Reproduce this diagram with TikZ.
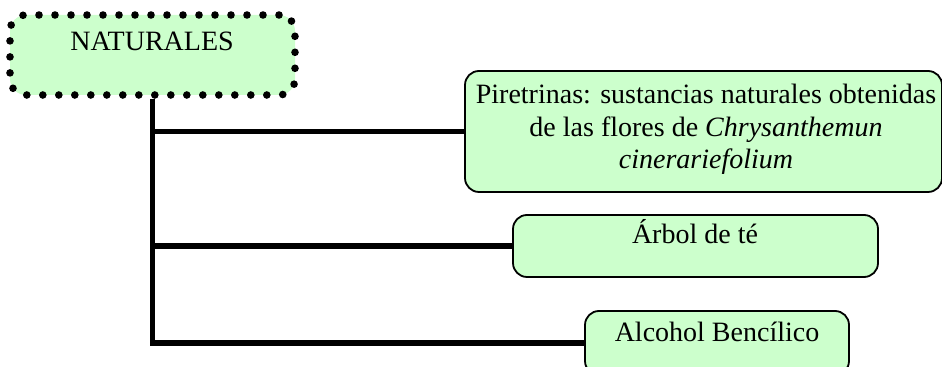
\documentclass[tikz,border=0pt]{standalone}
\usepackage{fontspec}
\setmainfont{Liberation Serif}
\definecolor{boxgreen}{HTML}{CCFFCC}
\begin{document}
\begin{tikzpicture}[x=0.5pt,y=-0.5pt,
  greenbox/.style={draw=black, line width=0.9pt, fill=boxgreen, rounded corners=7pt, inner sep=0pt},
  dotbox/.style={draw=black, line width=3.8pt, dash pattern=on 0pt off 8pt, line cap=round, fill=boxgreen, rounded corners=8pt, inner sep=0pt},
  conn/.style={draw=black, line width=2.6pt},
  txt/.style={font=\fontsize{14pt}{16pt}\selectfont, anchor=base, inner sep=0pt, align=center}]
\useasboundingbox (0,0) rectangle (942,367);
% boxes
\node[dotbox, minimum width=142.5pt, minimum height=40pt] (nat) at (152.5,55) {};
\node[greenbox, minimum width=238.5pt, minimum height=60.5pt] (b1) at (703.5,131.5) {};
\node[greenbox, minimum width=182.5pt, minimum height=31pt] (b2) at (695.5,246) {};
\node[greenbox, minimum width=132pt, minimum height=32pt] (b3) at (717,343) {};
% texts
\node[txt] (tnat) at (152,51) {NATURALES};
\node[txt] (t1a) at (706,104) {Piretrinas: sustancias naturales obtenidas};
\node[txt] (t1b) at (706,137) {de las flores de \textit{Chrysanthemun}};
\node[txt] (t1c) at (706,169) {\textit{cinerariefolium}};
\node[txt] (t2) at (695,244) {Árbol de té};
\node[txt] (t3) at (717,342) {Alcohol Bencílico};
% connectors
\draw[conn] (nat.south) |- (b3.west);
\draw[conn] (b1.west -| nat.south) -- (b1.west);
\draw[conn] (b2.west -| nat.south) -- (b2.west);
\end{tikzpicture}
\end{document}
